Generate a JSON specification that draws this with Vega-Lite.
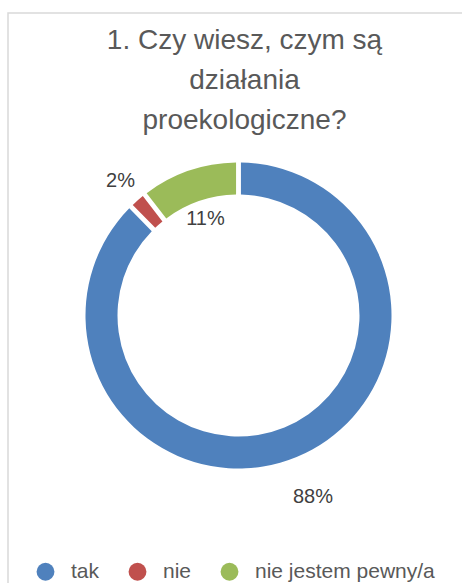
{
  "$schema": "https://vega.github.io/schema/vega-lite/v6.json",
  "autosize": {"type": "none"},
  "padding": {"left": 8, "top": 13, "right": 0, "bottom": 0},
  "width": 461,
  "height": 605,
  "background": "white",
  "view": {"stroke": "#D9D9D9", "strokeWidth": 1.5},
  "title": {
    "text": ["1. Czy wiesz, czym są", "działania", "proekologiczne?"],
    "font": "Liberation Sans",
    "fontSize": 28,
    "fontWeight": "normal",
    "color": "#595959",
    "lineHeight": 40,
    "anchor": "middle",
    "offset": -122,
    "dx": 6
  },
  "data": {
    "values": [
      {"idx": 1, "kategoria": "tak", "procent": 87.6, "etykieta": "88%"},
      {"idx": 2, "kategoria": "nie", "procent": 1.9, "etykieta": "2%"},
      {"idx": 3, "kategoria": "nie jestem pewny/a", "procent": 10.5, "etykieta": "11%"}
    ]
  },
  "encoding": {
    "theta": {"field": "procent", "type": "quantitative", "stack": true},
    "order": {"field": "idx", "type": "quantitative"}
  },
  "layer": [
    {
      "mark": {"type": "arc", "outerRadius": 153, "innerRadius": 121, "padAngle": 0.025},
      "encoding": {
        "color": {
          "field": "kategoria",
          "type": "nominal",
          "scale": {"domain": ["tak", "nie", "nie jestem pewny/a"], "range": ["#4F81BD", "#C0504D", "#9BBB59"]},
          "legend": {
            "title": null,
            "orient": "none",
            "direction": "horizontal",
            "legendX": 27,
            "legendY": 548,
            "symbolType": "circle",
            "symbolSize": 320,
            "symbolStrokeWidth": 0,
            "labelFont": "Liberation Sans",
            "labelFontSize": 21,
            "labelColor": "#595959",
            "labelOffset": 15,
            "labelLimit": 0,
            "columnPadding": 27
          }
        }
      }
    },
    {
      "mark": {"type": "text", "radius": 196, "font": "Liberation Sans", "fontSize": 20, "color": "#404040", "align": "center", "baseline": "middle"},
      "encoding": {
        "text": {"condition": {"test": "datum.kategoria === 'tak'", "field": "etykieta"}, "value": ""}
      }
    },
    {
      "mark": {"type": "text", "radius": 179, "font": "Liberation Sans", "fontSize": 20, "color": "#404040", "align": "center", "baseline": "middle"},
      "encoding": {
        "text": {"condition": {"test": "datum.kategoria === 'nie'", "field": "etykieta"}, "value": ""}
      }
    },
    {
      "mark": {"type": "text", "radius": 102, "font": "Liberation Sans", "fontSize": 20, "color": "#404040", "align": "center", "baseline": "middle"},
      "encoding": {
        "text": {"condition": {"test": "datum.kategoria === 'nie jestem pewny/a'", "field": "etykieta"}, "value": ""}
      }
    }
  ]
}
